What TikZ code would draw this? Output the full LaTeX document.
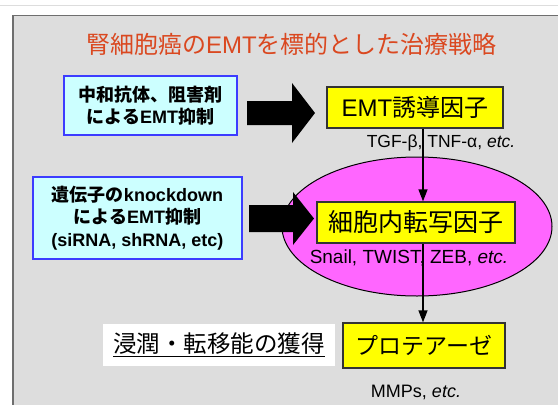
\documentclass[tikz,border=0pt]{standalone}
\usepackage{fontspec}
\setmainfont{Liberation Sans}
\newfontfamily\jp{Noto Sans CJK JP}
\usetikzlibrary{shapes.geometric,arrows.meta}
\definecolor{panelgray}{RGB}{221,221,221}
\definecolor{panelline}{RGB}{110,110,110}
\definecolor{titlecol}{RGB}{218,72,32}
\definecolor{cyanfill}{RGB}{204,255,255}
\definecolor{blueline}{RGB}{60,60,255}
\definecolor{magfill}{RGB}{255,102,255}
\definecolor{yelfill}{RGB}{255,255,0}
\tikzset{
  cbox/.style={draw=blueline, line width=1.6pt, fill=cyanfill, inner sep=0pt, align=center, font=\bfseries\fontsize{18}{22.5}\selectfont},
  ybox/.style={draw=black!80, line width=1.3pt, fill=yelfill, inner sep=0pt},
  lbl/.style={inner sep=0pt, font=\fontsize{17.5}{19}\selectfont},
  blockarrow/.style={fill=black},
  thinarrow/.style={draw=black, line width=1.3pt, -{Triangle[width=9pt,length=12pt]}}
}
\begin{document}
\begin{tikzpicture}[x=1pt,y=-1pt]
\useasboundingbox (0,0) rectangle (558,405);
\clip (0,0) rectangle (558,405);
\fill[white] (0,0) rectangle (558,405);
\draw[panelgray, line width=1pt] (0,5) -- (558,5);
\draw[panelline, fill=panelgray, line width=1.6pt] (13,15.5) rectangle (580,430);
% title
\node[text=titlecol, inner sep=0pt, font=\fontsize{24}{26}\selectfont] (title) at (291.5,44) {{\jp 腎細胞癌の}EMT{\jp を標的とした治療戦略}};
% ellipse
\node[ellipse, draw=black, line width=1pt, fill=magfill, minimum width=270, minimum height=139, inner sep=0pt] (ell) at (417,226.5) {};
% boxes
\node[cbox, minimum width=173, minimum height=59] (b1) at (150.5,105.5) {{\jp 中和抗体、阻害剤}\\{\jp による}EMT{\jp 抑制}};
\node[cbox, minimum width=209, minimum height=82] (b3) at (137.5,218) {{\jp 遺伝子の}knockdown\\{\jp による}EMT{\jp 抑制}\\(siRNA, shRNA, etc)};
\node[ybox, minimum width=176, minimum height=41, font=\fontsize{24}{26}\selectfont] (b2) at (415,107.5) {EMT{\jp 誘導因子}};
\node[ybox, minimum width=198, minimum height=41, font=\fontsize{25}{27}\selectfont] (b4) at (416,222.5) {\jp 細胞内転写因子};
\node[ybox, minimum width=162, minimum height=45, font=\fontsize{23}{25}\selectfont] (b5) at (424,345.5) {\jp プロテアーゼ};
\node[fill=white, minimum width=232, minimum height=42, inner sep=0pt, font=\fontsize{23.5}{25}\selectfont] (inv) at (219,345) {\underline{\jp 浸潤・転移能の獲得}};
% labels
\node[lbl] (tgf) at (441,143) {TGF-β, TNF-α, \textit{etc.}};
\node[lbl, font=\fontsize{19}{21}\selectfont] (snail) at (409,258) {Snail, TWIST, ZEB, \textit{etc.}};
\node[lbl, font=\fontsize{18}{20}\selectfont] (mmp) at (416,392) {MMPs, \textit{etc.}};
% block arrows
\fill[blockarrow] (247,101) -- (292,101) -- (292,83) -- (315,113) -- (292,143) -- (292,125) -- (247,125) -- cycle;
\fill[blockarrow] (249,205) -- (293,205) -- (293,192) -- (314,218.5) -- (293,245) -- (293,232) -- (249,232) -- cycle;
% thin arrows
\coordinate (vx) at (423,0);
\draw[thinarrow] (b2.south -| vx) -- (b4.north -| vx);
\draw[thinarrow] (b4.south -| vx) -- (b5.north -| vx);
\end{tikzpicture}
\end{document}
